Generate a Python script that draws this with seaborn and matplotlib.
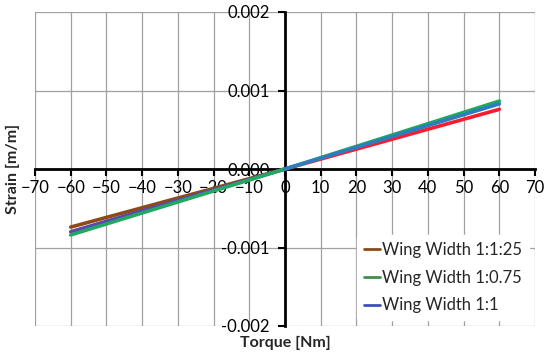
import pandas as pd
import matplotlib.pyplot as plt
from matplotlib.lines import Line2D
import seaborn as sns

# Data
series = ["Wing Width 1:1:25", "Wing Width 1:0.75", "Wing Width 1:1"]
torque_neg = [-60, 0]
torque_pos = [0, 60]
strain_neg = [[-0.00074, 0.0], [-0.00084, 0.0], [-0.00080, 0.0]]
strain_pos = [[0.0, 0.00076], [0.0, 0.000865], [0.0, 0.00083]]
colors_neg = ["#8E4A16", "#22A860", "#5C46B0"]
colors_pos = ["#FF1A2E", "#1DAA5C", "#2E7CC0"]
legend_colors = ["#8E4A16", "#3F8F50", "#3D50BA"]

xticks = [-70, -60, -50, -40, -30, -20, -10, 0, 10, 20, 30, 40, 50, 60, 70]
yticks = [-0.002, -0.001, 0.0, 0.001, 0.002]
ytick_labels = ["-0.002", "-0.001", "0.000", "0.001", "0.002"]

sns.set_style("whitegrid")
plt.rcParams["font.family"] = ["Lato", "DejaVu Sans"]

fig = plt.figure(figsize=(5.5, 3.57), dpi=100)
ax = fig.add_axes([35 / 550, 1 - 326 / 357, 500 / 550, 314 / 357])

# negative torque half
for i in [0, 2, 1]:
    df = pd.DataFrame({"Torque": torque_neg, "Strain": strain_neg[i]})
    sns.lineplot(data=df, x="Torque", y="Strain", color=colors_neg[i], lw=2.6, ax=ax)
# positive torque half
for i in [0, 1, 2]:
    df = pd.DataFrame({"Torque": torque_pos, "Strain": strain_pos[i]})
    sns.lineplot(data=df, x="Torque", y="Strain", color=colors_pos[i], lw=2.6, ax=ax)

ax.set_xlim(-70, 70)
ax.set_ylim(-0.002, 0.002)
ax.set_xticks(xticks)
ax.set_yticks(yticks)
ax.set_yticklabels(ytick_labels)
ax.grid(True, color="#A0A0A0", lw=0.9)

for s in ["top", "right"]:
    ax.spines[s].set_visible(False)
ax.spines["left"].set_position(("data", 0))
ax.spines["bottom"].set_position(("data", 0))
for s in ["left", "bottom"]:
    ax.spines[s].set_color("black")
    ax.spines[s].set_linewidth(2)
    ax.spines[s].set_zorder(1.5)

ax.tick_params(axis="both", direction="out", length=5, width=1.5, color="black",
               labelsize=12, labelcolor="black")
ax.tick_params(axis="x", pad=3, bottom=True)
ax.tick_params(axis="y", pad=6, left=True)

ax.set_xlabel("Torque [Nm]", fontsize=11.5, fontweight="bold")
ax.set_ylabel("Strain [m/m]", fontsize=11.5, fontweight="bold")
ax.xaxis.set_label_coords(0.5, -0.032)
ax.yaxis.set_label_coords(-0.03, 0.5)

handles = [Line2D([0], [0], color=c, lw=2) for c in legend_colors]
leg = ax.legend(handles, series, loc="center", bbox_to_anchor=(0.805, 0.222),
                bbox_transform=fig.transFigure, fontsize=12, frameon=True,
                handlelength=1.0, handletextpad=0.1, labelspacing=0.7,
                borderpad=0.4)
leg.get_frame().set_facecolor("white")
leg.get_frame().set_edgecolor("white")
leg.get_frame().set_alpha(1)

plt.savefig("out.png", dpi=100)
